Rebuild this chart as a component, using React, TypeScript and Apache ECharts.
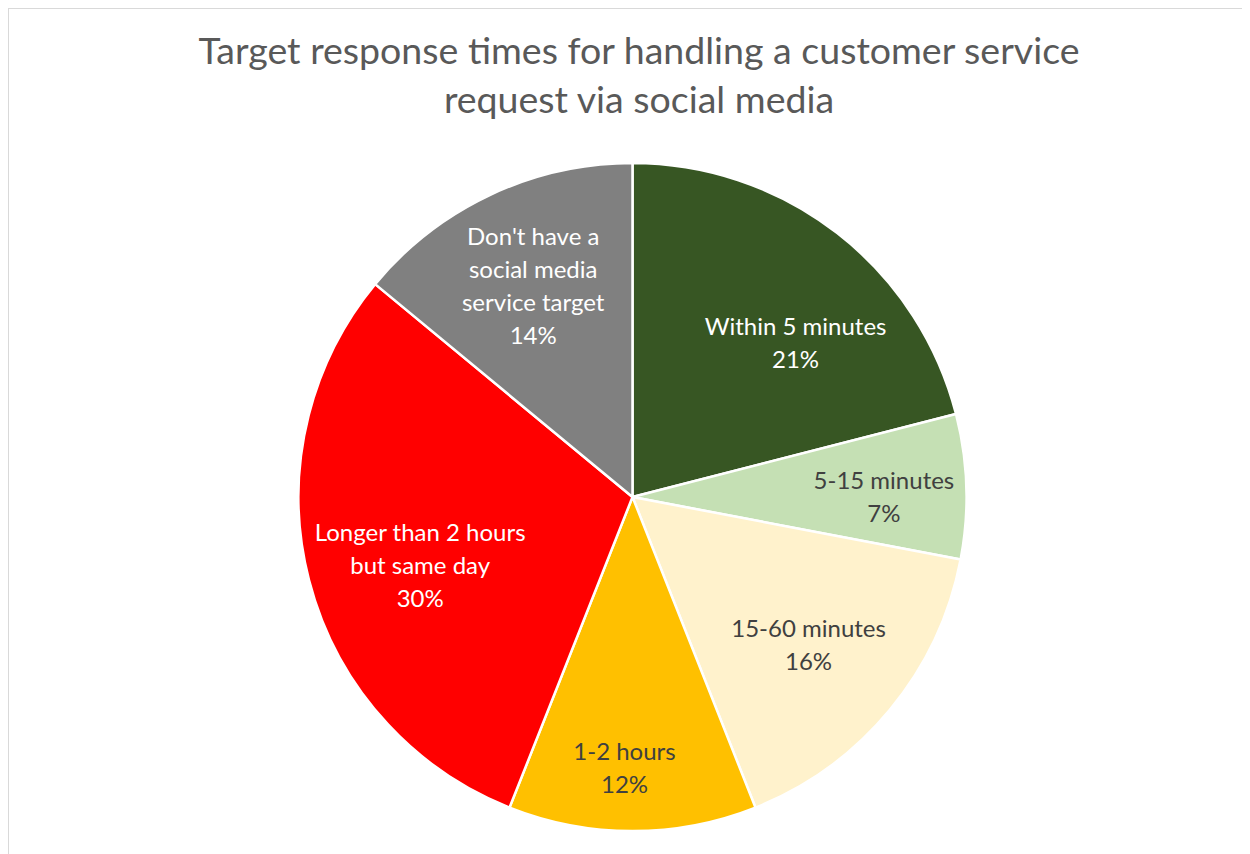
import React, { useEffect, useRef } from "react";
import * as echarts from "echarts";

const titleLines = [
  "Target response times for handling a customer service",
  "request via social media",
];
const categories = [
  "Within 5 minutes",
  "5-15 minutes",
  "15-60 minutes",
  "1-2 hours",
  "Longer than 2 hours\nbut same day",
  "Don't have a\nsocial media\nservice target",
];
const values = [21, 7, 16, 12, 30, 14];
const colors = ["#375623", "#C5E0B4", "#FFF2CC", "#FFC000", "#FF0000", "#808080"];
const labelColors = ["#FFFFFF", "#404040", "#404040", "#404040", "#FFFFFF", "#FFFFFF"];

const FONT = "Lato, 'Open Sans', sans-serif";

export default function App() {
  const ref = useRef<HTMLDivElement>(null);
  useEffect(() => {
    if (!ref.current) return;
    const chart = echarts.init(ref.current, undefined, { renderer: "svg" });
    const center = [623.5, 488];
    const R = 334;
    const labelOffsets: number[][] = [
      [23, 26],
      [23, 6],
      [0, 1],
      [-8, 41],
      [9, 11],
      [-2, -5],
    ];
    chart.setOption({
      animation: false,
      backgroundColor: "#FFFFFF",
      title: {
        text: titleLines.join("\n"),
        left: "center",
        top: 11,
        textStyle: {
          fontFamily: FONT,
          fontSize: 37.5,
          fontWeight: "normal",
          color: "#595959",
          lineHeight: 49,
        },
      },
      series: [
        {
          type: "pie",
          center,
          radius: [0, R],
          startAngle: 90,
          clockwise: true,
          silent: true,
          label: { show: false },
          labelLine: { show: false },
          itemStyle: { borderColor: "#FFFFFF", borderWidth: 2.5 },
          data: categories.map((c, i) => ({
            name: c,
            value: values[i],
            itemStyle: { color: colors[i] },
          })),
        },
        {
          type: "pie",
          center,
          radius: [117, R],
          startAngle: 90,
          clockwise: true,
          silent: true,
          itemStyle: { color: "rgba(0,0,0,0)" },
          labelLine: { show: false },
          label: {
            show: true,
            position: "inside",
            formatter: "{b}\n{d}%",
            fontFamily: FONT,
            fontSize: 24,
            lineHeight: 33,
            align: "center",
          },
          data: categories.map((c, i) => ({
            name: c,
            value: values[i],
            label: { color: labelColors[i], offset: labelOffsets[i] },
          })),
        },
      ],
    });
    return () => chart.dispose();
  }, []);
  return (
    <div style={{ width: 1242, height: 846, overflow: "hidden" }}>
      <div
        ref={ref}
        style={{ width: 1260, height: 860, border: "1px solid #D9D9D9" }}
      />
    </div>
  );
}
